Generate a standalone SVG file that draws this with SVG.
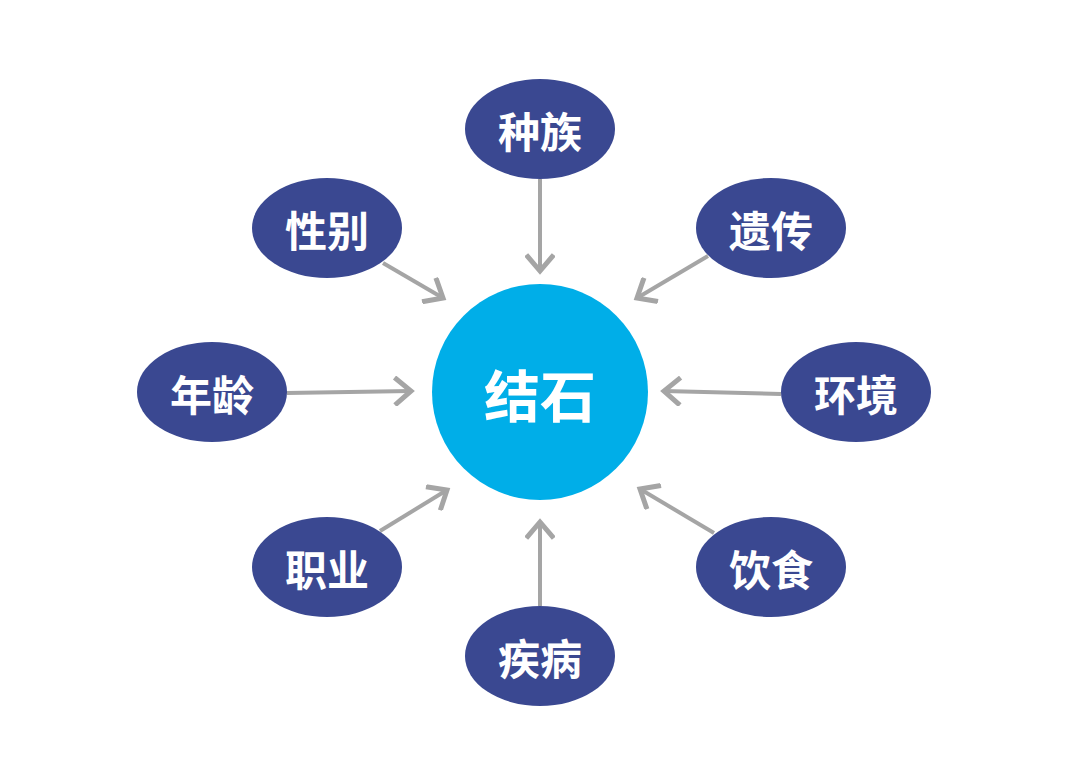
<svg xmlns="http://www.w3.org/2000/svg" width="1080" height="784" viewBox="0 0 1080 784">
<style>
.n{fill:#3A4891}
.t{fill:#fff;font-family:"Noto Sans CJK SC","Noto Sans",sans-serif;font-weight:bold;font-size:42px;text-anchor:middle;dominant-baseline:central}
.c{stroke:#A5A5A5;stroke-width:4;fill:none;marker-end:url(#ah)}
</style>
<defs>
<marker id="ah" markerUnits="userSpaceOnUse" markerWidth="30" markerHeight="30" viewBox="-16 -12 20 24" refX="0" refY="0" orient="auto">
<path d="M-13,-11 L0,0 L-13,11" fill="none" stroke="#A5A5A5" stroke-width="4"/>
</marker>
</defs>
<rect width="1080" height="784" fill="#fff"/>
<g id="connectors">
<line class="c" x1="540" y1="179" x2="540" y2="271"/>
<line class="c" x1="383" y1="263" x2="443" y2="298"/>
<line class="c" x1="708" y1="256" x2="637" y2="298"/>
<line class="c" x1="287" y1="393" x2="411" y2="391"/>
<line class="c" x1="781" y1="394" x2="664" y2="391"/>
<line class="c" x1="380" y1="531" x2="447" y2="490"/>
<line class="c" x1="714" y1="533" x2="640" y2="489"/>
<line class="c" x1="540" y1="606" x2="540" y2="522"/>
</g>
<g id="center"><circle cx="540" cy="392" r="108" fill="#00AEE8"/><text class="t" x="540" y="392" style="font-size:56px">结石</text></g>
<g id="zhongzu"><ellipse class="n" cx="540" cy="129" rx="75" ry="50"/><text class="t" x="540" y="129">种族</text></g>
<g id="xingbie"><ellipse class="n" cx="327" cy="228" rx="75" ry="50"/><text class="t" x="327" y="228">性别</text></g>
<g id="yichuan"><ellipse class="n" cx="771" cy="228" rx="75" ry="50"/><text class="t" x="771" y="228">遗传</text></g>
<g id="nianling"><ellipse class="n" cx="212" cy="392" rx="75" ry="50"/><text class="t" x="212" y="392">年龄</text></g>
<g id="huanjing"><ellipse class="n" cx="856" cy="392" rx="75" ry="50"/><text class="t" x="856" y="392">环境</text></g>
<g id="zhiye"><ellipse class="n" cx="327" cy="567" rx="75" ry="50"/><text class="t" x="327" y="567">职业</text></g>
<g id="yinshi"><ellipse class="n" cx="771" cy="567" rx="75" ry="50"/><text class="t" x="771" y="567">饮食</text></g>
<g id="jibing"><ellipse class="n" cx="540" cy="656" rx="75" ry="50"/><text class="t" x="540" y="656">疾病</text></g>
</svg>
